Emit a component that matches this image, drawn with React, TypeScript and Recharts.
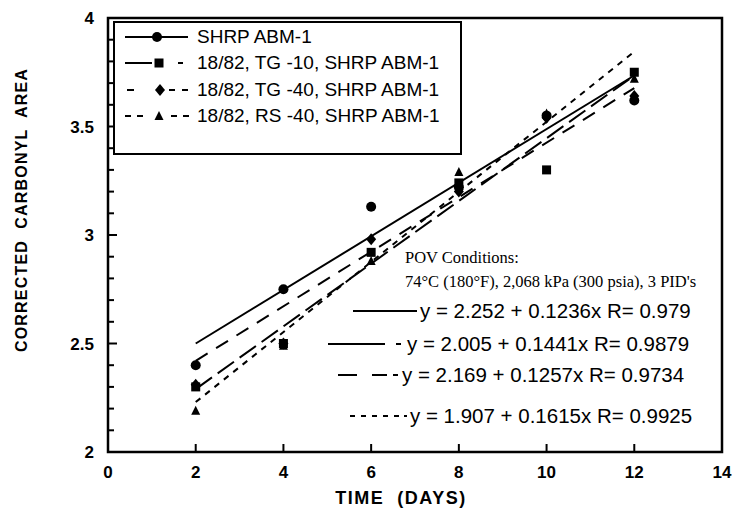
import React from 'react';
import { ScatterChart, Scatter, XAxis, YAxis, ReferenceArea, Legend } from 'recharts';

/* --- data --- */

const days = [2, 4, 6, 8, 10, 12];
const shrpAbm1 = [2.4, 2.75, 3.13, 3.22, 3.55, 3.62];
const tg10 = [2.3, 2.5, 2.92, 3.24, 3.3, 3.75];
const tg40 = [2.31, 2.5, 2.98, 3.2, 3.54, 3.64];
const rs40 = [2.19, 2.49, 2.88, 3.29, 3.56, 3.72];

// regression lines, read at both ends of the measured range
const fitDays = [2, 12];
const fitShrp = [2.5, 3.735];
const fitTg10 = [2.29, 3.735];
const fitTg40 = [2.42, 3.677];
const fitRs40 = [2.23, 3.845];

const seriesNames = [
    'SHRP ABM-1',
    '18/82, TG -10, SHRP ABM-1',
    '18/82, TG -40, SHRP ABM-1',
    '18/82, RS -40, SHRP ABM-1',
];
const equations = [
    'y = 2.252 + 0.1236x R= 0.979',
    'y = 2.005 + 0.1441x R= 0.9879',
    'y = 2.169 + 0.1257x R= 0.9734',
    'y = 1.907 + 0.1615x R= 0.9925',
];
const conditions = ['POV Conditions:', "74°C (180°F), 2,068 kPa (300 psia), 3 PID's"];

const xTicks = [0, 2, 4, 6, 8, 10, 12, 14];
const yTicks = [2, 2.1, 2.2, 2.3, 2.4, 2.5, 2.6, 2.7, 2.8, 2.9, 3, 3.1, 3.2, 3.3, 3.4, 3.5, 3.6, 3.7, 3.8, 3.9, 4];
const yLabels = [2, 2.5, 3, 3.5, 4];

const toPoints = (xs: number[], ys: number[]) => xs.map((x, i) => ({ x, y: ys[i] }));

const SANS = 'Arial, "Liberation Sans", Helvetica, sans-serif';
const SERIF = '"Times New Roman", "Liberation Serif", serif';

/* --- markers --- */

function Marker({ cx, cy, kind }: { cx?: number; cy?: number; kind: string }) {
    if (cx == null || cy == null) return <g />;
    if (kind === 'circle') return <circle cx={cx} cy={cy} r={5} fill="#000" />;
    if (kind === 'square') return <rect x={cx - 4.5} y={cy - 4.5} width={9} height={9} fill="#000" />;
    if (kind === 'diamond')
        return <polygon points={`${cx},${cy - 6} ${cx + 5},${cy} ${cx},${cy + 6} ${cx - 5},${cy}`} fill="#000" />;
    return <polygon points={`${cx},${cy - 5} ${cx + 4.5},${cy + 4} ${cx - 4.5},${cy + 4}`} fill="#000" />;
}

const noMarker = () => <g />;

/* --- ticks --- */

function LeftTick({ x, y, payload }: any) {
    const major = yLabels.includes(payload.value);
    return (
        <g>
            <line x1={x} x2={x + (major ? 9 : 6)} y1={y} y2={y} stroke="#000" strokeWidth={2} />
            {major && (
                <text x={x - 14} y={y + 6} textAnchor="end" fontFamily={SANS} fontWeight="bold" fontSize={17} fill="#000">
                    {String(payload.value)}
                </text>
            )}
        </g>
    );
}

function RightTick({ x, y, payload }: any) {
    const major = yLabels.includes(payload.value);
    return <line x1={x} x2={x - (major ? 9 : 6)} y1={y} y2={y} stroke="#000" strokeWidth={2} />;
}

function BottomTick({ x, y, payload }: any) {
    return (
        <g>
            <line x1={x} x2={x} y1={y} y2={y - 8} stroke="#000" strokeWidth={2} />
            <text x={x} y={y + 26} textAnchor="middle" fontFamily={SANS} fontWeight="bold" fontSize={17} fill="#000">
                {payload.value}
            </text>
        </g>
    );
}

/* --- legend boxes --- */

const legendSamples = [
    { segs: [[0, 63]], marker: 'circle', mx: 32 },
    { segs: [[0, 27], [53, 58]], marker: 'square', mx: 34 },
    { segs: [[2, 9], [44, 50], [57, 63]], marker: 'diamond', mx: 35 },
    { segs: [[0, 6], [12, 18], [46, 52], [58, 64]], marker: 'triangle', mx: 34 },
];

function SeriesLegend() {
    return (
        <div
            style={{
                position: 'relative',
                width: 345,
                height: 130,
                border: '2px solid #000',
                background: '#fff',
                fontFamily: SANS,
                fontSize: 19,
                color: '#000',
            }}
        >
            {seriesNames.map((name, i) => {
                const s = legendSamples[i];
                const top = 14 + i * 26.3;
                return (
                    <div key={name} style={{ position: 'absolute', left: 10, top: top - 11, height: 22, display: 'flex', alignItems: 'center' }}>
                        <svg width={66} height={22} style={{ display: 'block' }}>
                            {s.segs.map(([a, b], k) => (
                                <line key={k} x1={a} x2={b} y1={11} y2={11} stroke="#000" strokeWidth={2} />
                            ))}
                            <Marker cx={s.mx} cy={11} kind={s.marker} />
                        </svg>
                        <span style={{ marginLeft: 6, whiteSpace: 'pre', lineHeight: '22px' }}>{name}</span>
                    </div>
                );
            })}
        </div>
    );
}

const eqSamples = [
    { segs: [[353, 417]], textX: 420 },
    { segs: [[328, 385], [396, 401]], textX: 407 },
    { segs: [[338, 357], [372, 387], [393, 398]], textX: 402 },
    { segs: [[350, 355], [361, 366], [372, 377], [383, 388], [394, 399], [404, 407]], textX: 410 },
];
const eqRowY = [311, 344, 375, 416];

function Annotation() {
    return (
        <svg width={733} height={514} style={{ position: 'absolute', left: 0, top: 0, pointerEvents: 'none' }}>
            <text x={405} y={263} fontFamily={SERIF} fontSize={16.5} fill="#000">
                {conditions[0]}
            </text>
            <text x={405} y={287} fontFamily={SERIF} fontSize={16.5} fill="#000">
                {conditions[1]}
            </text>
            {equations.map((eq, i) => (
                <g key={eq}>
                    {eqSamples[i].segs.map(([a, b], k) => (
                        <line key={k} x1={a} x2={b} y1={eqRowY[i]} y2={eqRowY[i]} stroke="#000" strokeWidth={2} />
                    ))}
                    <text x={eqSamples[i].textX} y={eqRowY[i] + 7} fontFamily={SANS} fontSize={20.5} fill="#000" style={{ whiteSpace: 'pre' }}>
                        {eq}
                    </text>
                </g>
            ))}
        </svg>
    );
}

/* --- chart --- */

export default function App() {
    return (
        <div style={{ position: 'absolute', left: 0, top: 0, width: 733, height: 514, background: '#fff' }}>
            <ScatterChart width={733} height={514} margin={{ top: 18, right: 0, bottom: 0, left: 0 }}>
                <XAxis
                    type="number"
                    dataKey="x"
                    domain={[0, 14]}
                    ticks={xTicks}
                    interval={0}
                    height={62}
                    axisLine={false}
                    tickLine={false}
                    tickSize={0}
                    tickMargin={0}
                    tick={BottomTick}
                    label={{
                        content: () => (
                            <text x={401} y={504} textAnchor="middle" fontFamily={SANS} fontWeight="bold" fontSize={18} letterSpacing={1.5} fill="#000" style={{ whiteSpace: 'pre' }}>
                                TIME  (DAYS)
                            </text>
                        ),
                    }}
                />
                <YAxis
                    type="number"
                    dataKey="y"
                    domain={[2, 4]}
                    ticks={yTicks}
                    interval={0}
                    width={108}
                    axisLine={false}
                    tickLine={false}
                    tickSize={0}
                    tickMargin={0}
                    tick={LeftTick}
                    label={{
                        content: () => (
                            <text transform="translate(27,210) rotate(-90)" textAnchor="middle" fontFamily={SANS} fontWeight="bold" fontSize={16} letterSpacing={1.2} fill="#000" style={{ whiteSpace: 'pre' }}>
                                CORRECTED  CARBONYL  AREA
                            </text>
                        ),
                    }}
                />
                <YAxis
                    yAxisId="r"
                    orientation="right"
                    type="number"
                    dataKey="y"
                    domain={[2, 4]}
                    ticks={yTicks}
                    interval={0}
                    width={11}
                    axisLine={false}
                    tickLine={false}
                    tickSize={0}
                    tickMargin={0}
                    tick={RightTick}
                />
                <ReferenceArea x1={0} x2={14} y1={2} y2={4} fill="none" fillOpacity={0} stroke="#000" strokeWidth={2.5} />

                <Scatter data={toPoints(fitDays, fitShrp)} line={{ stroke: '#000', strokeWidth: 2 }} shape={noMarker} isAnimationActive={false} />
                <Scatter data={toPoints(fitDays, fitTg10)} line={{ stroke: '#000', strokeWidth: 2, strokeDasharray: '20 7' }} shape={noMarker} isAnimationActive={false} />
                <Scatter data={toPoints(fitDays, fitTg40)} line={{ stroke: '#000', strokeWidth: 2, strokeDasharray: '14 10' }} shape={noMarker} isAnimationActive={false} />
                <Scatter data={toPoints(fitDays, fitRs40)} line={{ stroke: '#000', strokeWidth: 2, strokeDasharray: '6 6' }} shape={noMarker} isAnimationActive={false} />

                <Scatter name={seriesNames[0]} data={toPoints(days, shrpAbm1)} shape={(p: any) => <Marker {...p} kind="circle" />} isAnimationActive={false} />
                <Scatter name={seriesNames[1]} data={toPoints(days, tg10)} shape={(p: any) => <Marker {...p} kind="square" />} isAnimationActive={false} />
                <Scatter name={seriesNames[2]} data={toPoints(days, tg40)} shape={(p: any) => <Marker {...p} kind="diamond" />} isAnimationActive={false} />
                <Scatter name={seriesNames[3]} data={toPoints(days, rs40)} shape={(p: any) => <Marker {...p} kind="triangle" />} isAnimationActive={false} />

                <Legend
                    layout="vertical"
                    align="center"
                    verticalAlign="middle"
                    wrapperStyle={{ left: 113, top: 21, width: 349, height: 134 }}
                    content={() => <SeriesLegend />}
                />
            </ScatterChart>
            <Annotation />
        </div>
    );
}
